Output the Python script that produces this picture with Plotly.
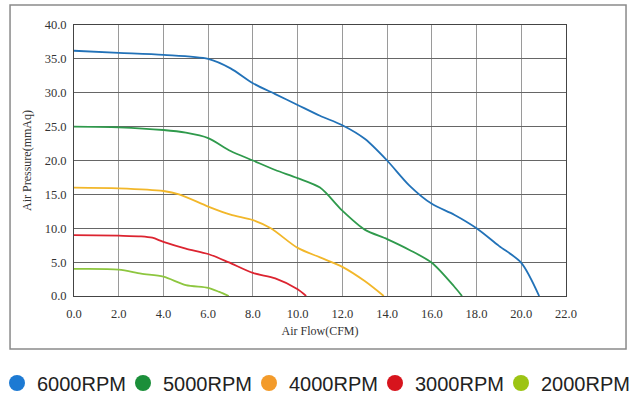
import plotly.graph_objects as go

# air flow (CFM) / pressure (mmAq)
flow_6000 = [0, 2, 4, 6, 7, 8, 9, 10, 11, 12, 13, 14, 15, 16, 17, 18, 19, 20, 20.8]
pres_6000 = [36.2, 35.9, 35.6, 35.0, 33.6, 31.4, 29.8, 28.2, 26.6, 25.2, 23.2, 20.0, 16.3, 13.6, 12.0, 10.0, 7.4, 4.9, 0.0]

flow_5000 = [0, 2, 4, 5, 6, 7, 8, 9, 10, 11, 12, 13, 14, 15, 16, 17, 17.35]
pres_5000 = [25.0, 24.9, 24.5, 24.1, 23.3, 21.4, 20.0, 18.6, 17.4, 16.0, 12.6, 9.8, 8.4, 6.8, 4.9, 1.4, 0.0]

flow_4000 = [0, 2, 4, 4.7, 6, 7, 8, 8.8, 10, 11, 12, 13, 13.85]
pres_4000 = [16.0, 15.9, 15.5, 15.0, 13.2, 12.0, 11.2, 10.0, 7.1, 5.7, 4.3, 2.2, 0.0]

flow_3000 = [0, 2, 3, 3.5, 4, 5, 6, 6.9, 8, 9, 10, 10.38]
pres_3000 = [9.0, 8.9, 8.8, 8.6, 8.0, 7.0, 6.2, 5.0, 3.4, 2.6, 1.0, 0.0]

flow_2000 = [0, 2, 3, 4, 5, 6, 6.5, 6.92]
pres_2000 = [4.0, 3.9, 3.3, 2.85, 1.6, 1.2, 0.6, 0.0]

names = ["6000RPM", "5000RPM", "4000RPM", "3000RPM", "2000RPM"]
line_colors = ["#2272b8", "#2f9a4c", "#f2b72a", "#dc2430", "#8dc63f"]
dot_colors = ["#1d7ad3", "#1b8f3a", "#f39b2b", "#d7141d", "#9cc414"]

x_ticks = [0, 2, 4, 6, 8, 10, 12, 14, 16, 18, 20, 22]
y_ticks = [0, 5, 10, 15, 20, 25, 30, 35, 40]

curves = [(flow_6000, pres_6000), (flow_5000, pres_5000), (flow_4000, pres_4000),
          (flow_3000, pres_3000), (flow_2000, pres_2000)]

fig = go.Figure()

for (fx, py), name, col in zip(curves, names, line_colors):
    fig.add_trace(go.Scatter(
        x=fx, y=py, mode="lines", name=name, showlegend=False,
        line=dict(color=col, width=1.8, shape="spline", smoothing=0.8),
    ))

# legend dots, one small legend per entry so the row keeps its spacing
leg_ids = ["legend", "legend2", "legend3", "legend4", "legend5"]
for name, col, lid in zip(names, dot_colors, leg_ids):
    fig.add_trace(go.Scatter(
        x=[None], y=[None], mode="markers", name=name, legend=lid,
        marker=dict(color=col, size=16, symbol="circle"),
    ))

serif = "Liberation Serif"

fig.update_xaxes(
    range=[0, 22], tickvals=x_ticks, ticktext=["%.1f" % v for v in x_ticks],
    showgrid=True, gridcolor="#9a9a9a", gridwidth=1,
    showline=True, linecolor="#444", linewidth=1, mirror=True,
    zeroline=False, ticks="", ticklabelstandoff=6,
    tickfont=dict(family=serif, size=12.5, color="#333"),
    title=dict(text="Air Flow(CFM)", font=dict(family=serif, size=12, color="#333"), standoff=6),
)
fig.update_yaxes(
    range=[0, 40], tickvals=y_ticks, ticktext=["%.1f" % v for v in y_ticks],
    showgrid=True, gridcolor="#666", gridwidth=1,
    showline=True, linecolor="#444", linewidth=1, mirror=True,
    zeroline=False, ticks="", ticklabelstandoff=4,
    tickfont=dict(family=serif, size=12.5, color="#333"),
    title=dict(text="Air Pressure(mmAq)", font=dict(family=serif, size=12, color="#333"), standoff=10),
)

# outer frame around the chart
fig.add_shape(type="rect", xref="paper", yref="paper",
              x0=-0.130, x1=1.122, y0=-0.196, y1=1.074,
              line=dict(color="#8a8a8a", width=1.5), layer="below")

leg_style = dict(
    orientation="h", xanchor="left", y=-0.321, yanchor="middle",
    font=dict(family="Liberation Sans", size=20, color="#222"),
    itemsizing="trace", itemwidth=30, bgcolor="rgba(0,0,0,0)",
)

fig.update_layout(
    width=639, height=401,
    margin=dict(l=74, r=73, t=25, b=105, autoexpand=False),
    plot_bgcolor="white", paper_bgcolor="white",
)
for i, lid in enumerate(leg_ids):
    fig.update_layout({lid: dict(x=(126 * i - 77) / 492, **leg_style)})

fig.write_html("out.html", config={"displayModeBar": False},
               post_script="document.body.style.margin='0';document.body.style.overflow='hidden';")
